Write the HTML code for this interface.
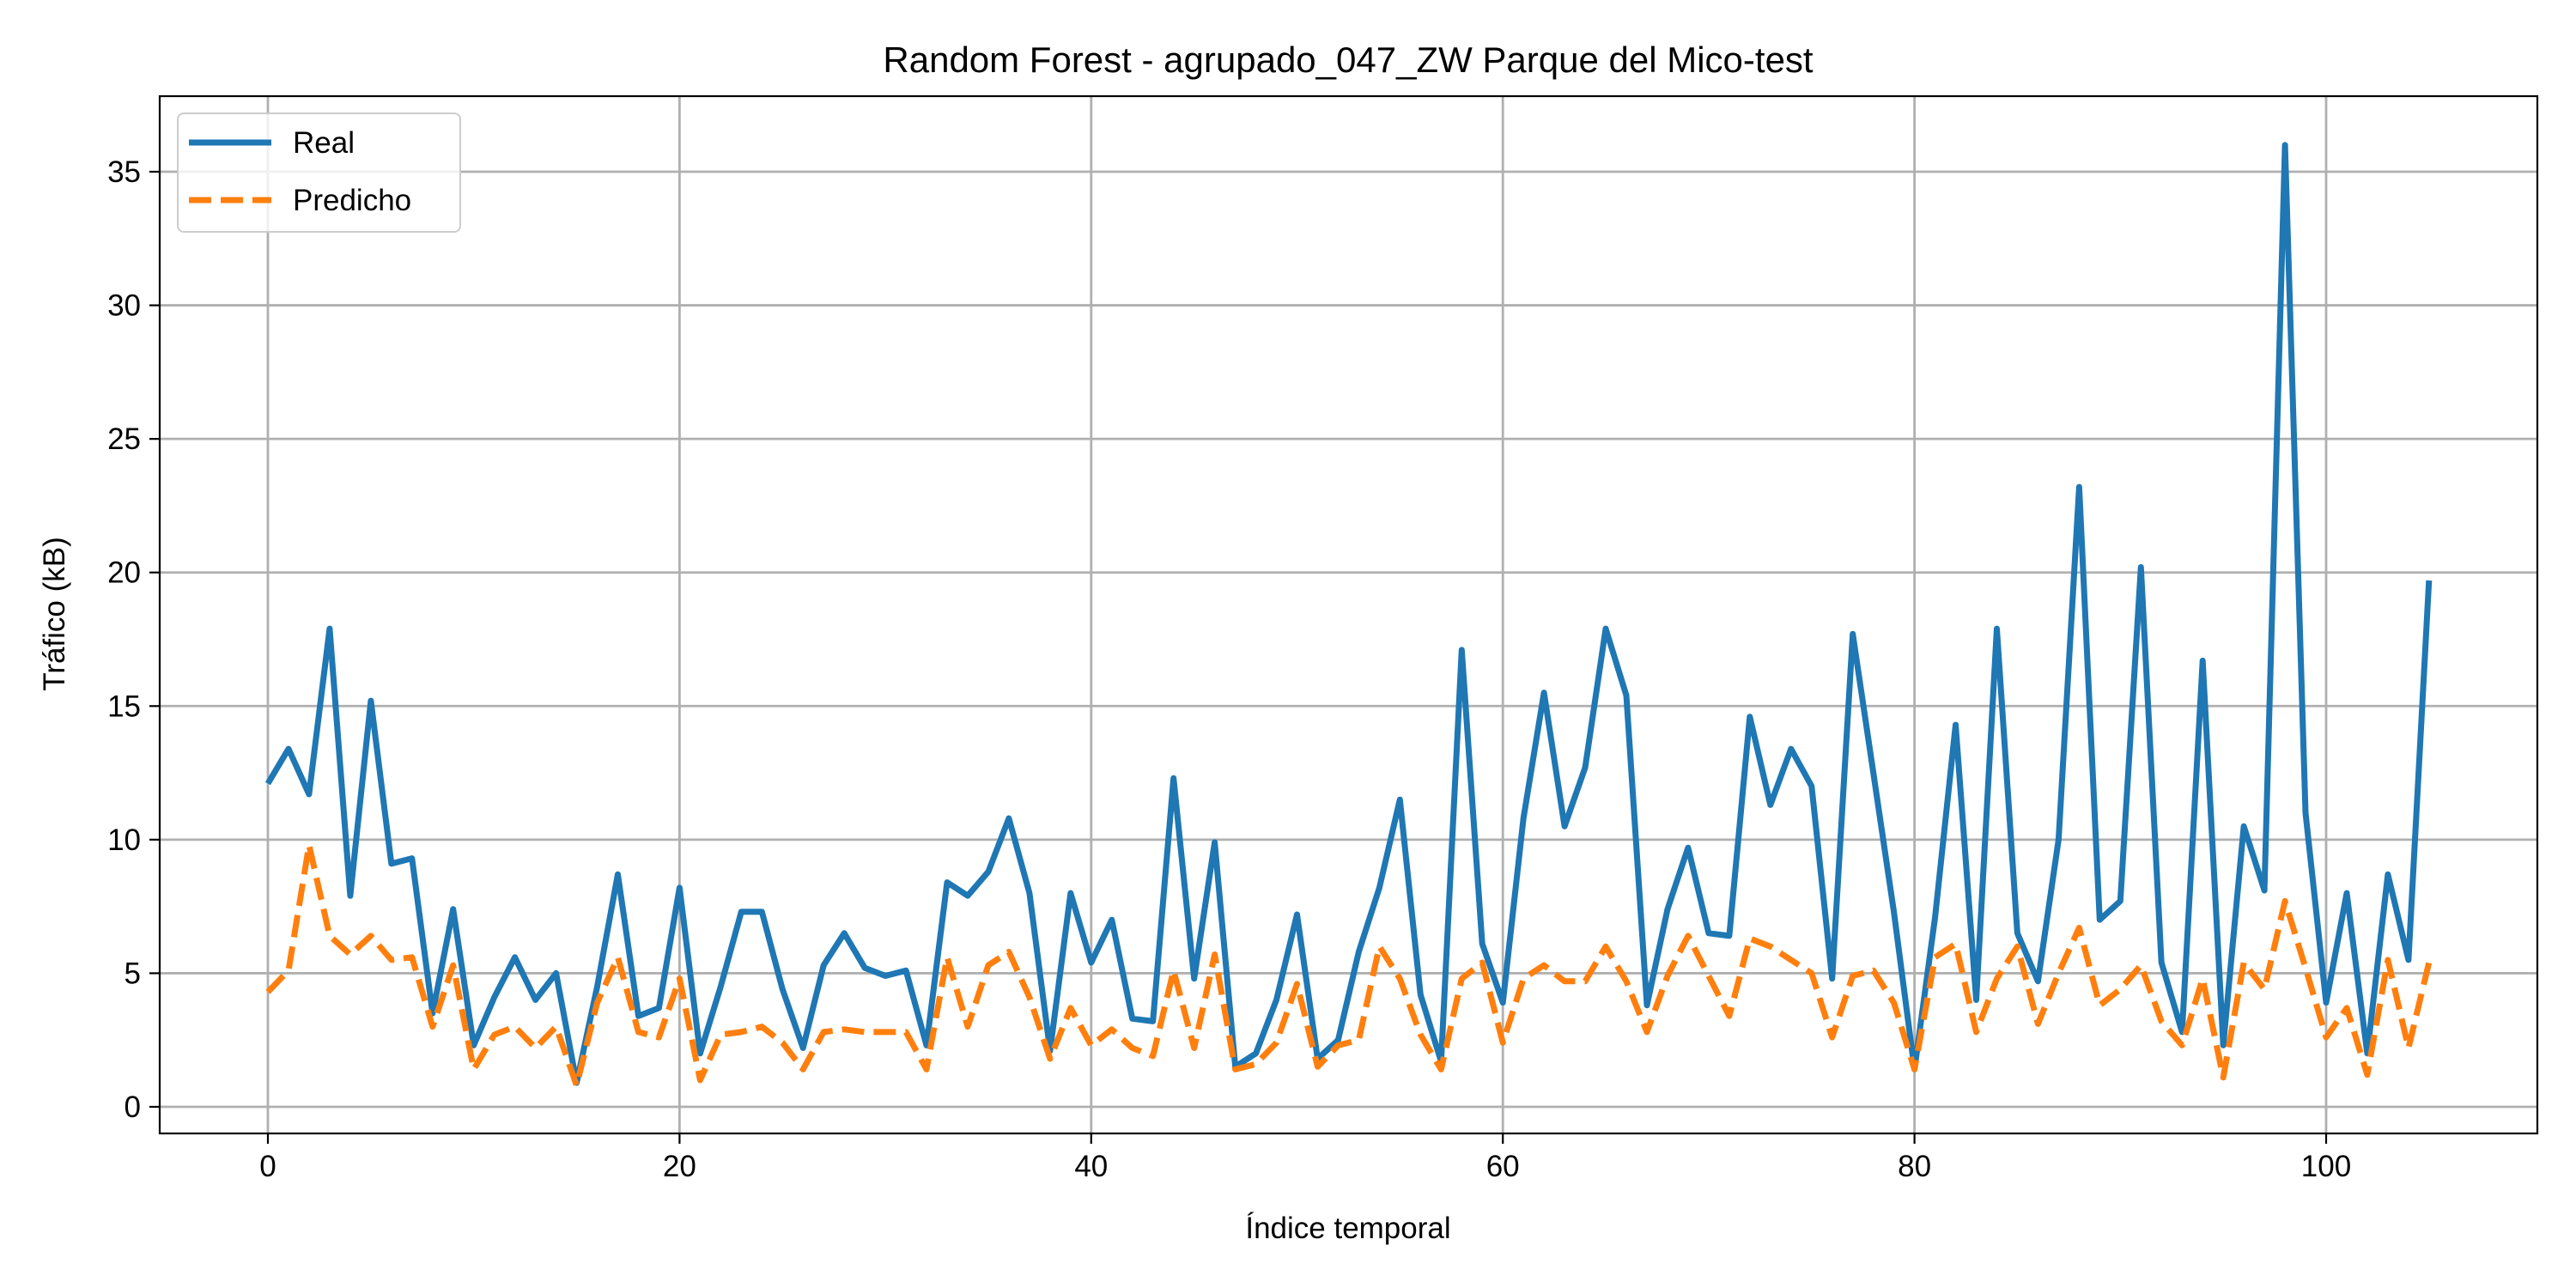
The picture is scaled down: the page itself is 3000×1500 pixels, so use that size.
<!DOCTYPE html>
<html><head><meta charset="utf-8"><style>
html,body{margin:0;padding:0;background:#fff;}
svg{display:block;font-family:"Liberation Sans","DejaVu Sans",sans-serif;}
</style></head><body>
<svg id="chart" width="3000" height="1500" viewBox="0 0 3000 1500" xmlns="http://www.w3.org/2000/svg">
<rect x="0" y="0" width="3000" height="1500" fill="#fff"/>
<g id="grid"></g>
<g id="xticks"></g>
<g id="yticks"></g>
<g id="series"></g>
<rect x="186" y="112" width="2769" height="1208" fill="none" stroke="#000" stroke-width="2.2"/>
<text x="1570" y="84" font-size="42" text-anchor="middle">Random Forest - agrupado_047_ZW Parque del Mico-test</text>
<text x="1570" y="1442" font-size="35" text-anchor="middle">Índice temporal</text>
<text x="0" y="0" font-size="35" text-anchor="middle" transform="translate(75,715) rotate(-90)">Tráfico (kB)</text>
<g>
<rect x="207" y="132" width="329" height="138" rx="7" fill="#fff" fill-opacity="0.8" stroke="#ccc" stroke-width="2"/>
<g>
<line x1="220" y1="166" x2="316" y2="166" stroke="#1f77b4" stroke-width="7"/>
<text x="341" y="178" font-size="35">Real</text></g>
<g>
<line x1="220" y1="233" x2="316" y2="233" stroke="#ff7f0e" stroke-width="7" stroke-dasharray="26,11"/>
<text x="341" y="245" font-size="35">Predicho</text></g>
</g>
</svg>
<script>
const xTicks = [0, 20, 40, 60, 80, 100];
const yTicks = [0, 5, 10, 15, 20, 25, 30, 35];
const realValues = [12.1,13.4,11.7,17.9,7.9,15.2,9.1,9.3,3.5,7.4,2.3,4.1,5.6,4.0,5.0,0.9,4.5,8.7,3.4,3.7,8.2,2.0,4.5,7.3,7.3,4.4,2.2,5.3,6.5,5.2,4.9,5.1,2.3,8.4,7.9,8.8,10.8,8.0,2.1,8.0,5.4,7.0,3.3,3.2,12.3,4.8,9.9,1.5,2.0,4.0,7.2,1.8,2.5,5.8,8.2,11.5,4.2,1.7,17.1,6.1,3.9,10.8,15.5,10.5,12.7,17.9,15.4,3.8,7.4,9.7,6.5,6.4,14.6,11.3,13.4,12.0,4.8,17.7,12.5,7.3,1.4,7.1,14.3,4.0,17.9,6.5,4.7,10.0,23.2,7.0,7.7,20.2,5.4,2.8,16.7,2.3,10.5,8.1,36.0,11.0,3.9,8.0,2.0,8.7,5.5,19.7];
const predValues = [4.3,5.1,9.8,6.4,5.7,6.4,5.5,5.6,3.0,5.3,1.4,2.7,3.0,2.2,3.0,0.8,3.9,5.6,2.8,2.6,4.8,1.0,2.7,2.8,3.0,2.4,1.4,2.8,2.9,2.8,2.8,2.8,1.4,5.6,3.0,5.3,5.8,4.1,1.8,3.7,2.3,2.9,2.2,1.9,5.1,2.2,5.7,1.4,1.6,2.4,4.6,1.5,2.3,2.5,6.0,4.8,2.7,1.4,4.8,5.4,2.4,4.8,5.3,4.7,4.7,6.0,4.7,2.8,4.9,6.4,4.9,3.4,6.3,6.0,5.5,5.0,2.6,4.9,5.1,3.9,1.4,5.6,6.1,2.8,4.8,6.0,3.1,5.0,6.7,3.8,4.4,5.3,3.2,2.3,4.8,1.1,5.4,4.4,7.7,5.2,2.6,3.7,1.2,5.5,2.2,5.4];

const NS = 'http://www.w3.org/2000/svg';
const L = 186, R = 2955, T = 112, B = 1320;
function xs(v){ return 312 + v * (2709 - 312) / 100; }
function ys(v){ return 1289 - v * (1289 - 200) / 35; }
function mk(tag, attrs, parent){
  const e = document.createElementNS(NS, tag);
  for (const k in attrs) e.setAttribute(k, attrs[k]);
  parent.appendChild(e); return e;
}
const grid = document.getElementById('grid');
const gx = document.getElementById('xticks');
const gy = document.getElementById('yticks');
xTicks.forEach(v => {
  const x = xs(v);
  const gl = mk('line', {x1:x, y1:T, x2:x, y2:B, stroke:'#b0b0b0', 'stroke-width':2.8}, grid);
  
  
  mk('line', {x1:x, y1:B, x2:x, y2:B+12, stroke:'#000', 'stroke-width':2.2}, gx);
  const t = mk('text', {x:x, y:B+50, 'font-size':35, 'text-anchor':'middle'}, gx);
  t.textContent = v;
  
  
});
yTicks.forEach(v => {
  const y = ys(v);
  const gl = mk('line', {x1:L, y1:y, x2:R, y2:y, stroke:'#b0b0b0', 'stroke-width':2.8}, grid);
  
  
  mk('line', {x1:L-12, y1:y, x2:L, y2:y, stroke:'#000', 'stroke-width':2.2}, gy);
  const t = mk('text', {x:L-22, y:y+12, 'font-size':35, 'text-anchor':'end'}, gy);
  t.textContent = v;
  
  
});
const series = document.getElementById('series');
function pts(arr){ return arr.map((v,i) => xs(i).toFixed(1) + ',' + ys(v).toFixed(1)).join(' '); }
const realLine = mk('polyline', {points:pts(realValues), fill:'none', stroke:'#1f77b4', 'stroke-width':7, 'stroke-linejoin':'round', 'stroke-linecap':'butt'}, series);


const predLine = mk('polyline', {points:pts(predValues), fill:'none', stroke:'#ff7f0e', 'stroke-width':7, 'stroke-dasharray':'26,11', 'stroke-linejoin':'round'}, series);


</script>
</body></html>
